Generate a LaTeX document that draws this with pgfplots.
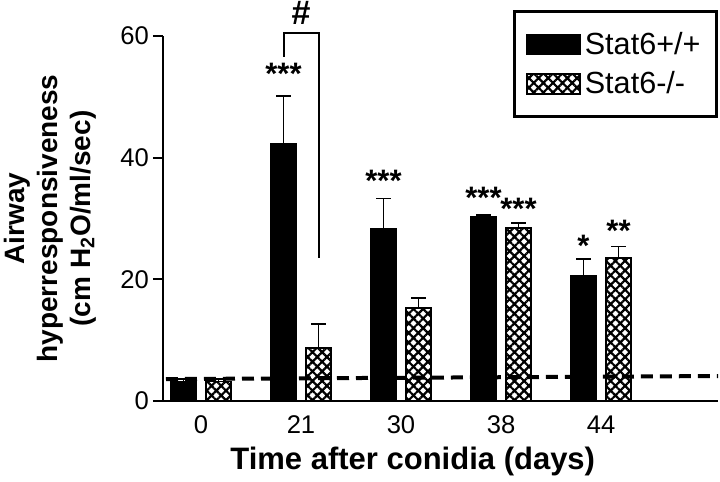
\documentclass[border=0pt]{standalone}
\usepackage{pgfplots}
\pgfplotsset{compat=1.18}
\usepackage{fontspec}
\setmainfont{Liberation Sans}
\usetikzlibrary{patterns.meta}

\tikzset{xhatch/.style={pattern={Hatch[angle=45,distance=3.4pt,line width=1.1pt]}}}

\begin{document}
\begin{tikzpicture}
\begin{axis}[
  scale only axis, width=277.5pt, height=182.5pt,
  xmin=-0.38, xmax=5.17, ymin=0, ymax=60,
  axis x line*=bottom, axis y line*=left,
  axis line style={line width=1pt},
  xtick={0,1,2,3,4}, xticklabels={0,21,30,38,44},
  ytick={0,20,40,60},
  x tick style={draw=none},
  y tick style={line width=1pt, black},
  tick align=outside, major tick length=5pt,
  tick label style={font=\fontsize{12.8}{14}\selectfont},
  xticklabel style={yshift=1pt},
  yticklabel style={xshift=1.5pt},
  /pgf/number format/assume math mode=true,
  clip=false,
  xlabel={Time after conidia (days)},
  xlabel style={at={(axis description cs:0.45,-0.167)}, anchor=center,
    font=\bfseries\fontsize{15.5}{18}\selectfont},
  ylabel={Airway\\hyperresponsiveness\\(cm H\textsubscript{2}O/ml/sec)},
  ylabel style={at={(axis description cs:-0.204,0.5)}, anchor=center, align=center,
    font=\bfseries\fontsize{14}{16.5}\selectfont},
  legend style={at={(axis description cs:1,1.07)}, anchor=north east,
    draw=black, line width=1.5pt, font=\fontsize{15.3}{17}\selectfont,
    row sep=3pt, inner xsep=6pt, inner ysep=8pt, cells={anchor=west}},
  legend image code/.code={\draw[#1, line width=0.8pt] (0pt,-5pt) rectangle (26.5pt,5pt);},
  error bars/y dir=plus, error bars/y explicit,
  error bars/error bar style={line width=0.9pt, black},
  error bars/error mark options={rotate=90, line width=0.9pt, mark size=3.7pt, black},
]
\addplot[ybar, bar width=0.25, bar shift=0pt, draw=black, line width=0.8pt, fill=black]
  coordinates {
    (-0.175,3.1) +- (0,0.5)
    (0.825,42.2) +- (0,8.0)
    (1.825,28.3) +- (0,5.0)
    (2.825,30.3) +- (0,0.3)
    (3.825,20.5) +- (0,2.9)
  };
\addlegendentry{Stat6+/+}
\addplot[ybar, bar width=0.25, bar shift=0pt, draw=black, line width=0.8pt, fill=white, xhatch]
  coordinates {
    (0.175,3.2) +- (0,0.4)
    (1.175,8.7) +- (0,4.0)
    (2.175,15.3) +- (0,1.6)
    (3.175,28.4) +- (0,0.8)
    (4.175,23.5) +- (0,1.9)
  };
\addlegendentry{Stat6-/-}
% dashed baseline
\addplot[forget plot, black, line width=2pt, dash pattern=on 6pt off 3.5pt]
  coordinates {(-0.35,3.6) (5.17,4.1)};
% bracket at day 21
\addplot[forget plot, black, line width=1pt]
  coordinates {(0.825,56.6) (0.825,60.5) (1.175,60.5) (1.175,23.5)};
\node[font=\bfseries\fontsize{17}{18}\selectfont, text height=11pt] at (axis cs:1,63.7) {\#};
\tikzset{star/.style={anchor=base, font=\bfseries\fontsize{15.5}{18}\selectfont}}
\node[star] at (axis cs:0.825,52.1) {***};
\node[star] at (axis cs:1.825,34.4) {***};
\node[star] at (axis cs:2.825,31.7) {***};
\node[star] at (axis cs:3.175,29.9) {***};
\node[star] at (axis cs:3.825,23.8) {*};
\node[star] at (axis cs:4.175,26.2) {**};
\coordinate (bbsw) at (axis description cs:-0.29369,-0.221918);
\coordinate (bbne) at (axis description cs:1.003604,1.09863);
\end{axis}
\pgfresetboundingbox
\path[use as bounding box] (bbsw) rectangle (bbne);
\end{tikzpicture}
\end{document}
